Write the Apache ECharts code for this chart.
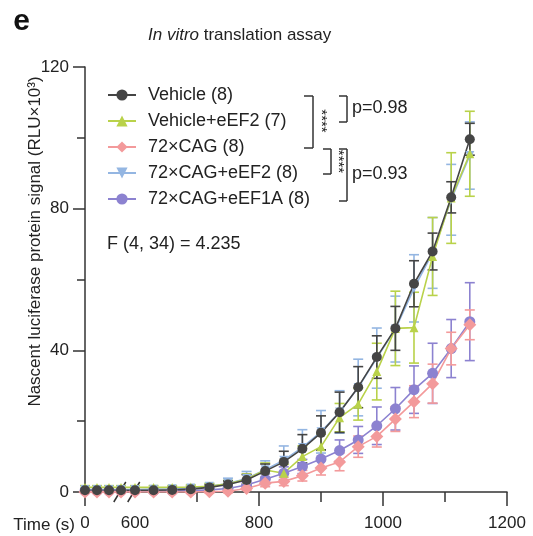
<!DOCTYPE html>
<html><head><meta charset="utf-8">
<script src="https://cdn.jsdelivr.net/npm/echarts@6/dist/echarts.min.js"></script>
<style>html,body{margin:0;padding:0;background:#fff}#c{width:533px;height:536px}</style>
</head><body><div id="c"></div>
<script>
// ---------- data ----------
const times = [0,30,60,90,600,630,660,690,720,750,780,810,840,870,900,930,960,990,1020,1050,1080,1110,1140];
const seriesNames = ['Vehicle (8)','Vehicle+eEF2 (7)','72×CAG (8)','72×CAG+eEF2 (8)','72×CAG+eEF1A (8)'];
const vehicle      = [0.5,0.5,0.5,0.5, 0.5,0.5,0.6,0.8,1.3,2.1,3.4,5.9,8.5,12.2,16.7,22.5,29.6,38.1,46.2,58.8,67.9,83.2,99.6];
const vehicleErr   = [0.3,0.3,0.3,0.3, 0.3,0.3,0.4,0.5,0.7,1.0,1.5,2.0,3.0,4.0,4.8,5.7,5.8,6.0,6.2,6.5,5.2,4.4,4.5];
const vehEEF2      = [1.3,1.3,1.3,1.3, 1.3,1.3,1.3,1.4,1.6,2.3,3.6,6.2,5.3,10.0,12.8,21.0,24.8,34.0,46.2,46.4,66.5,83.0,95.5];
const vehEEF2Err   = [0.5,0.5,0.5,0.5, 0.5,0.5,0.5,0.6,0.8,1.0,1.5,2.0,2.5,3.0,3.5,4.0,4.5,8.0,10.5,10.0,11.0,12.8,12.0];
const cag          = [0,0,0,0, 0,0,0,0,0.1,0.2,1.0,2.5,3.0,4.6,6.8,8.5,12.8,15.7,20.6,25.5,30.6,40.5,47.2];
const cagErr       = [0.2,0.2,0.2,0.2, 0.2,0.2,0.2,0.2,0.3,0.4,0.5,1.0,1.2,1.5,2.0,2.5,3.0,3.0,3.5,4.5,5.5,4.6,4.2];
const cagEEF2      = [0.7,0.7,0.7,0.7, 0.7,0.8,0.9,1.1,1.6,2.4,3.8,6.3,9.0,12.6,17.0,22.6,29.5,37.8,46.0,57.5,67.5,82.5,95.0];
const cagEEF2Err   = [0.4,0.4,0.4,0.4, 0.4,0.4,0.5,0.6,0.8,1.5,2.0,2.5,4.0,5.0,6.0,6.0,8.0,8.5,9.3,9.5,10.0,10.0,9.5];
const cagEEF1A     = [0.3,0.3,0.3,0.3, 0.3,0.3,0.3,0.4,0.6,1.0,2.0,3.6,5.3,7.2,9.3,11.7,14.7,18.7,23.5,28.9,33.5,40.5,48.1];
const cagEEF1AErr  = [0.3,0.3,0.3,0.3, 0.3,0.3,0.3,0.3,0.4,0.6,1.0,1.5,1.8,2.0,2.5,3.0,3.8,5.3,6.0,6.7,8.5,8.2,11.0];
const xTickLabels  = [0, 600, 800, 1000, 1200];
const xMinorTicks  = [700, 900, 1100];
const yTickLabels  = [0, 40, 80, 120];

// ---------- broken time axis mapping ----------
const BREAK_AT = 600, EARLY_ORIGIN = 519.4, EARLY_SCALE = 0.645;
function toAxis(t){ return t < BREAK_AT ? EARLY_ORIGIN + t*EARLY_SCALE : t; }
function fromAxis(v){ return v < BREAK_AT - 5 ? Math.round((v-EARLY_ORIGIN)/EARLY_SCALE) : v; }
const X0 = toAxis(0);

const FONT = '"Liberation Sans", Arial, Helvetica, sans-serif';
const AX = '#333';
const colors = ['#454545','#b9d24a','#f39a9b','#94b6e2','#8c82d0'];
const values = [vehicle, vehEEF2, cag, cagEEF2, cagEEF1A];
const errors = [vehicleErr, vehEEF2Err, cagErr, cagEEF2Err, cagEEF1AErr];
const symbols = [
  {symbol:'circle', size:10, rot:0},
  {symbol:'triangle', size:9, rot:0},
  {symbol:'diamond', size:13, rot:0},
  {symbol:'triangle', size:9, rot:180},
  {symbol:'circle', size:11, rot:0}
];
const drawOrder = [4, 2, 3, 1, 0];

function errSeries(i){
  const color = colors[i];
  return {
    type:'custom', name:'err'+i, silent:true, clip:false, z:2,
    data: times.map((t,k)=>[toAxis(t), values[i][k], errors[i][k]]),
    encode:{x:0, y:1},
    renderItem:(params, api)=>{
      const x = api.value(0), y = api.value(1), e = api.value(2);
      const top = api.coord([x, y+e]), bot = api.coord([x, y-e]);
      const hw = 5, st = {stroke:color, lineWidth:1.6};
      return {type:'group', children:[
        {type:'line', shape:{x1:top[0],y1:top[1],x2:bot[0],y2:bot[1]}, style:st},
        {type:'line', shape:{x1:top[0]-hw,y1:top[1],x2:top[0]+hw,y2:top[1]}, style:st},
        {type:'line', shape:{x1:bot[0]-hw,y1:bot[1],x2:bot[0]+hw,y2:bot[1]}, style:st}
      ]};
    }
  };
}
function lineSeries(i){
  return {
    type:'line', name:seriesNames[i], z:2,
    data: times.map((t,k)=>[toAxis(t), values[i][k]]),
    symbol:symbols[i].symbol, symbolSize:symbols[i].size, symbolRotate:symbols[i].rot,
    showSymbol:true,
    itemStyle:{color:colors[i], borderWidth:0},
    lineStyle:{color:colors[i], width:1.6}
  };
}
const series = [];
drawOrder.forEach(i=>{ series.push(errSeries(i)); series.push(lineSeries(i)); });

const axisLineStyle = {color:AX, width:1.5};
const option = {
  animation:false,
  backgroundColor:'#fff',
  textStyle:{fontFamily:FONT},
  title:{
    text:'{it|In vitro} translation assay', left:143, top:22,
    textStyle:{fontSize:17, fontWeight:'normal', color:'#222', fontFamily:FONT,
      rich:{it:{fontStyle:'italic', fontSize:17, color:'#222', fontFamily:FONT}}}
  },
  grid:{left:85, right:26, top:67, bottom:44, outerBoundsMode:'none'},
  legend:{
    data:seriesNames, orient:'vertical', left:107, top:85, padding:0,
    itemGap:6, itemWidth:28, itemHeight:14,
    textStyle:{fontSize:18, color:'#222', lineHeight:20, padding:[0,0,0,7], fontFamily:FONT}
  },
  xAxis:[{
    type:'value', min:X0, max:1200,
    axisLine:{show:true, lineStyle:axisLineStyle},
    axisTick:{show:true, length:14, lineStyle:axisLineStyle, customValues:[X0,800,1000,1200]},
    axisLabel:{customValues:xTickLabels.map(toAxis), formatter:(v)=>String(fromAxis(v)),
      fontSize:17, color:'#222', margin:23, fontFamily:FONT},
    splitLine:{show:false}
  },{
    type:'value', min:X0, max:1200, position:'bottom',
    axisLine:{show:false},
    axisTick:{show:true, length:10, lineStyle:axisLineStyle, customValues:xMinorTicks},
    axisLabel:{show:false},
    splitLine:{show:false}
  }],
  yAxis:{
    type:'value', min:yTickLabels[0], max:yTickLabels[yTickLabels.length-1], interval:40,
    axisLine:{show:true, lineStyle:axisLineStyle},
    axisTick:{show:true, length:12, lineStyle:axisLineStyle},
    minorTick:{show:true, splitNumber:2, length:8, lineStyle:axisLineStyle},
    axisLabel:{fontSize:17, color:'#222', margin:16, fontFamily:FONT},
    splitLine:{show:false}, minorSplitLine:{show:false}
  },
  series:series
};

const chart = echarts.init(document.getElementById('c'), null, {renderer:'canvas'});
chart.setOption(option);

const y0 = chart.convertToPixel({yAxisIndex:0}, 0);
const s1 = chart.convertToPixel({xAxisIndex:0}, toAxis(87));
const s2 = chart.convertToPixel({xAxisIndex:0}, 598);
const ln = (x1,y1,x2,y2)=>({type:'line', shape:{x1,y1,x2,y2}, style:{stroke:AX, lineWidth:1.5}, z:1});
const txt = (x,y,text,opt)=>Object.assign({type:'text', x, y, z:1,
  style:Object.assign({text, fill:'#222', fontSize:17, fontFamily:FONT, align:'left', verticalAlign:'middle'}, opt||{})});
const bracket = (xl, xr, yt, yb)=>[ln(xl,yt,xr,yt), ln(xr,yt,xr,yb), ln(xl,yb,xr,yb)];

chart.setOption({graphic:{elements:[
  // axis break marks
  ln(s1-6, y0+10, s1+6, y0-10),
  ln(s2-6, y0+10, s2+6, y0-10),
  // panel letter
  txt(21.5, 21.5, 'e', {fontSize:30, fontWeight:'bold', align:'center', fill:'#111'}),
  // y axis name
  Object.assign(txt(35, 241.5, 'Nascent luciferase protein signal (RLU×10³)', {align:'center'}), {rotation:Math.PI/2}),
  // x axis name
  txt(75, 525, 'Time (s)', {align:'right'}),
  // F statistic
  txt(107, 244, 'F (4, 34) = 4.235', {fontSize:18}),
  // significance brackets
  ...bracket(304, 313, 96, 148),
  Object.assign(txt(321, 121, '****', {fontSize:15, align:'center'}), {rotation:-Math.PI/2}),
  ...bracket(323, 331, 149, 174),
  Object.assign(txt(338, 161.5, '****', {fontSize:15, align:'center'}), {rotation:-Math.PI/2}),
  ...bracket(339, 347, 96, 122),
  txt(352, 108, 'p=0.98', {fontSize:18}),
  ...bracket(339, 347, 149, 201),
  txt(352, 174, 'p=0.93', {fontSize:18})
]}});
</script></body></html>
